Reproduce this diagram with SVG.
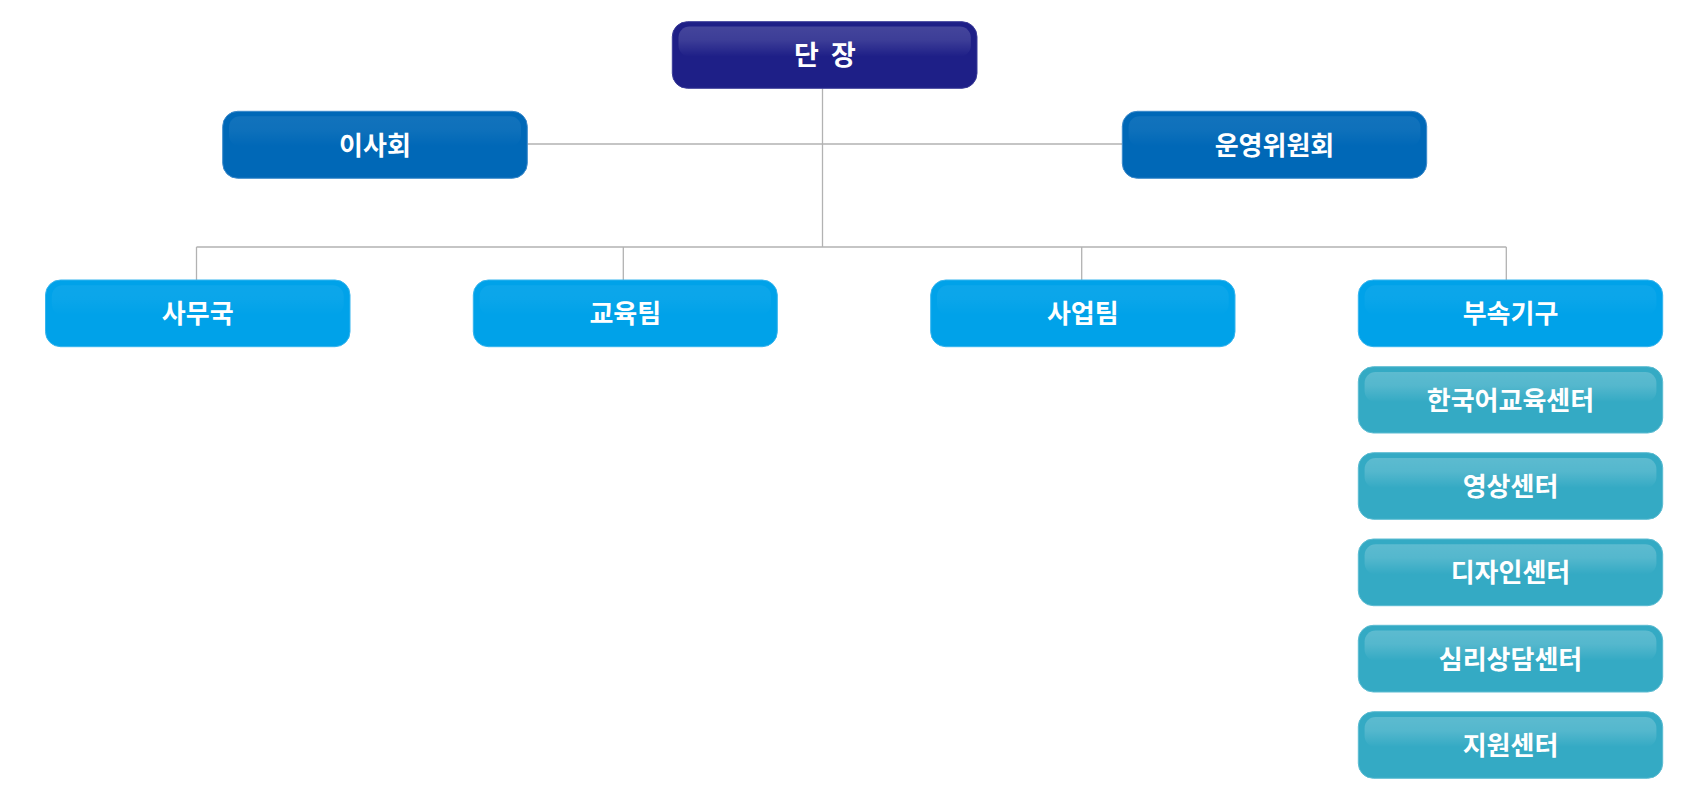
<svg xmlns="http://www.w3.org/2000/svg" width="1702" height="806" viewBox="0 0 1702 806">
  <defs>
    <linearGradient id="gloss" x1="0" y1="0" x2="0" y2="1">
      <stop offset="0" stop-color="#ffffff" stop-opacity="1"/>
      <stop offset="0.45" stop-color="#ffffff" stop-opacity="0.8"/>
      <stop offset="1" stop-color="#ffffff" stop-opacity="0"/>
    </linearGradient>
  </defs>
  <style>
    .box { stroke-width: 1; }
    .gl { fill: url(#gloss); }
    .head .box { fill: #1e1f87; stroke: #3b3c98; }
    .head .gl { opacity: 0.17; }
    .board .box { fill: #0068b7; stroke: #3d8acb; }
    .board .gl { opacity: 0.07; }
    .team .box { fill: #00a2e9; stroke: #35b4ee; }
    .team .gl { opacity: 0.05; }
    .center .box { fill: #34aac4; stroke: #5cbcd2; }
    .center .gl { opacity: 0.2; }
    text { font-family: "Noto Sans CJK KR", "Noto Sans", sans-serif; font-weight: bold; font-size: 26px; fill: #ffffff; text-anchor: middle; dominant-baseline: central; }
    .conn line { stroke: #b2b2b2; stroke-width: 1.3; fill: none; }
  </style>

  <g id="connectors" class="conn">
    <line x1="822.5" y1="88.3" x2="822.5" y2="247"/>
    <line x1="527.3" y1="144" x2="1122.3" y2="144"/>
    <line x1="196.5" y1="247" x2="1506.3" y2="247"/>
    <line x1="196.5" y1="247" x2="196.5" y2="280"/>
    <line x1="623.3" y1="247" x2="623.3" y2="280"/>
    <line x1="1081.7" y1="247" x2="1081.7" y2="280"/>
    <line x1="1506.3" y1="247" x2="1506.3" y2="280"/>
  </g>

  <g id="node-head" class="head">
    <rect class="box" x="672.3" y="21.7" width="304.7" height="66.6" rx="15"/>
    <rect class="gl" x="678.5" y="26.5" width="292.3" height="30" rx="11"/>
    <text x="826.5" y="53.5" letter-spacing="3" style="font-size:27px">단 장</text>
  </g>

  <g id="node-board" class="board">
    <rect class="box" x="222.7" y="111.3" width="304.6" height="67" rx="15"/>
    <rect class="gl" x="229" y="116.3" width="292" height="30" rx="11"/>
    <text x="375" y="143.3">이사회</text>
  </g>

  <g id="node-committee" class="board">
    <rect class="box" x="1122.3" y="111.3" width="304.4" height="67" rx="15"/>
    <rect class="gl" x="1128.6" y="116.3" width="291.8" height="30" rx="11"/>
    <text x="1274.5" y="143.3">운영위원회</text>
  </g>

  <g id="node-office" class="team">
    <rect class="box" x="45.5" y="280" width="304.5" height="66.7" rx="15"/>
    <rect class="gl" x="51.8" y="285.3" width="291.9" height="30" rx="11"/>
    <text x="197.7" y="311.8">사무국</text>
  </g>

  <g id="node-edu" class="team">
    <rect class="box" x="473.3" y="280" width="304" height="66.7" rx="15"/>
    <rect class="gl" x="479.6" y="285.3" width="291.4" height="30" rx="11"/>
    <text x="625.3" y="311.8">교육팀</text>
  </g>

  <g id="node-biz" class="team">
    <rect class="box" x="930.7" y="280" width="304.3" height="66.7" rx="15"/>
    <rect class="gl" x="937" y="285.3" width="291.7" height="30" rx="11"/>
    <text x="1082.8" y="311.8">사업팀</text>
  </g>

  <g id="node-affiliate" class="team">
    <rect class="box" x="1358.3" y="280" width="304.4" height="66.7" rx="15"/>
    <rect class="gl" x="1364.6" y="285.3" width="291.8" height="30" rx="11"/>
    <text x="1510.5" y="311.8">부속기구</text>
  </g>

  <g id="node-korean" class="center">
    <rect class="box" x="1358.3" y="366.7" width="304.4" height="66.3" rx="15"/>
    <rect class="gl" x="1364.6" y="372" width="291.8" height="30" rx="11"/>
    <text x="1510.5" y="398.3">한국어교육센터</text>
  </g>

  <g id="node-video" class="center">
    <rect class="box" x="1358.3" y="452.7" width="304.4" height="66.6" rx="15"/>
    <rect class="gl" x="1364.6" y="458" width="291.8" height="30" rx="11"/>
    <text x="1510.5" y="484.5">영상센터</text>
  </g>

  <g id="node-design" class="center">
    <rect class="box" x="1358.3" y="539" width="304.4" height="66.7" rx="15"/>
    <rect class="gl" x="1364.6" y="544.3" width="291.8" height="30" rx="11"/>
    <text x="1510.5" y="570.8">디자인센터</text>
  </g>

  <g id="node-counsel" class="center">
    <rect class="box" x="1358.3" y="625.3" width="304.4" height="66.7" rx="15"/>
    <rect class="gl" x="1364.6" y="630.6" width="291.8" height="30" rx="11"/>
    <text x="1510.5" y="657.1">심리상담센터</text>
  </g>

  <g id="node-support" class="center">
    <rect class="box" x="1358.3" y="711.7" width="304.4" height="66.6" rx="15"/>
    <rect class="gl" x="1364.6" y="717" width="291.8" height="30" rx="11"/>
    <text x="1510.5" y="743.5">지원센터</text>
  </g>
</svg>
